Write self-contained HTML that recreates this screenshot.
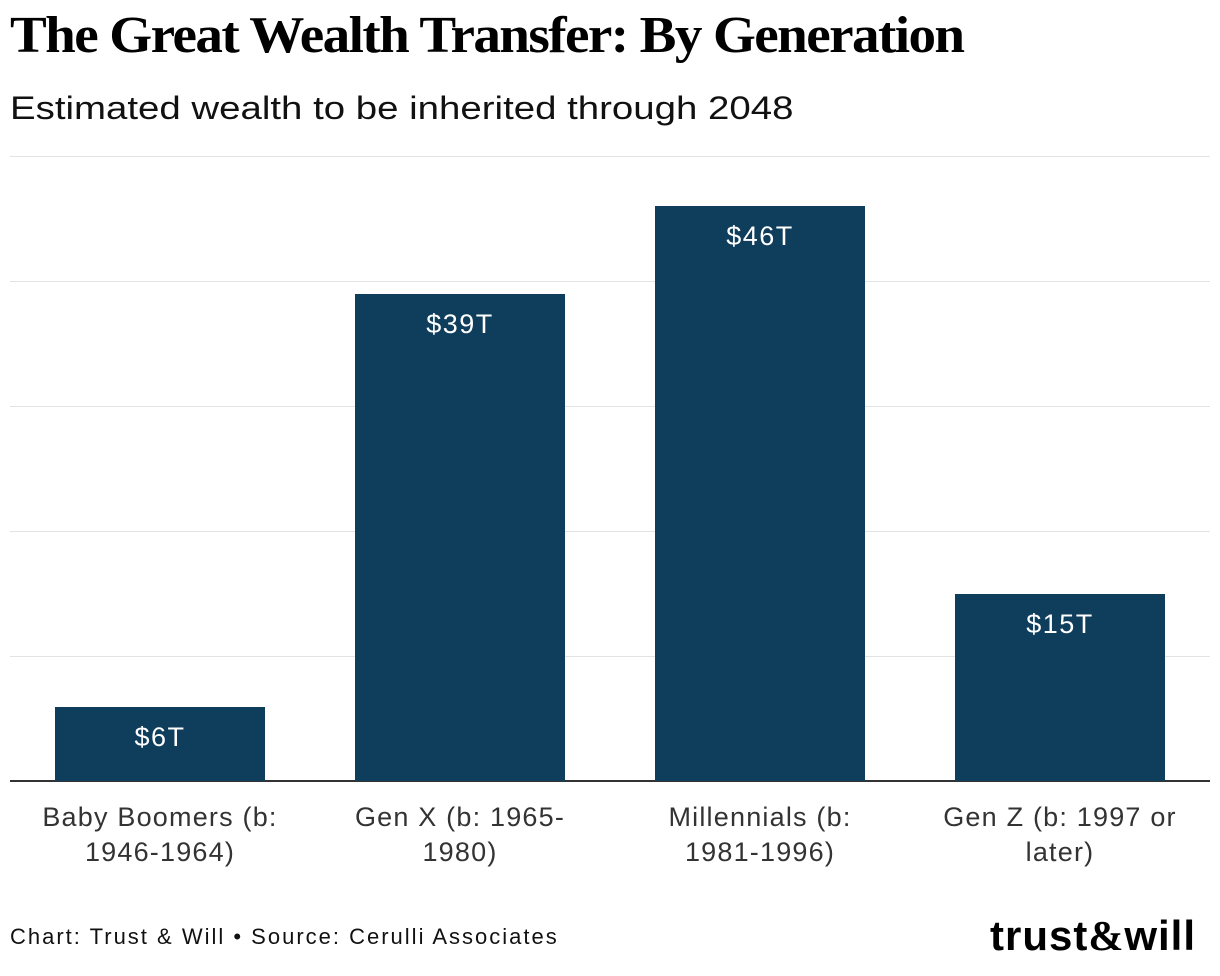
<!DOCTYPE html>
<html><head><meta charset="utf-8"><style>
body{margin:0;width:1220px;height:976px;background:#fff;position:relative;overflow:hidden;font-family:"Liberation Sans",sans-serif;color:#222}
.t{position:absolute;left:10px;top:6px;font-family:"Liberation Serif",serif;font-weight:bold;font-size:52px;letter-spacing:-1.5px;transform:scaleX(1.06);transform-origin:left;color:#000;white-space:nowrap}
.s{position:absolute;left:10px;top:90px;font-size:32px;color:#111;transform:scaleX(1.2);transform-origin:left;white-space:nowrap}
.g{position:absolute;left:10px;width:1200px;height:1px;background:#e3e3e3}
.b{position:absolute;width:210px;background:#0f3d5c;color:#fff;font-size:27px;letter-spacing:1.5px;text-align:center;padding-top:15px;box-sizing:border-box}
.l{position:absolute;width:300px;text-align:center;font-size:27px;letter-spacing:1.2px;line-height:35px;color:#333;top:800px}
.f{position:absolute;left:10px;top:924px;font-size:22px;letter-spacing:2px;color:#111;white-space:nowrap}
.logo{position:absolute;left:990px;top:912px;font-size:42px;font-weight:bold;color:#000;letter-spacing:1px;white-space:nowrap}
</style></head><body>
<div class="t">The Great Wealth Transfer: By Generation</div>
<div class="s">Estimated wealth to be inherited through 2048</div>
<div class="g" style="top:156px"></div>
<div class="g" style="top:281px"></div>
<div class="g" style="top:406px"></div>
<div class="g" style="top:531px"></div>
<div class="g" style="top:656px"></div>
<div class="g" style="top:780px;height:2px;background:#333"></div>
<div class="b" style="left:55px;top:707px;height:74px">$6T</div>
<div class="b" style="left:355px;top:294px;height:487px">$39T</div>
<div class="b" style="left:655px;top:206px;height:575px">$46T</div>
<div class="b" style="left:955px;top:594px;height:187px">$15T</div>
<div class="l" style="left:10px">Baby Boomers (b:<br>1946-1964)</div>
<div class="l" style="left:310px">Gen X (b: 1965-<br>1980)</div>
<div class="l" style="left:610px">Millennials (b:<br>1981-1996)</div>
<div class="l" style="left:910px">Gen Z (b: 1997 or<br>later)</div>
<div class="f">Chart: Trust &amp; Will • Source: Cerulli Associates</div>
<div class="logo">trust<span style="font-family:'Liberation Serif',serif">&amp;</span>will</div>
</body></html>
